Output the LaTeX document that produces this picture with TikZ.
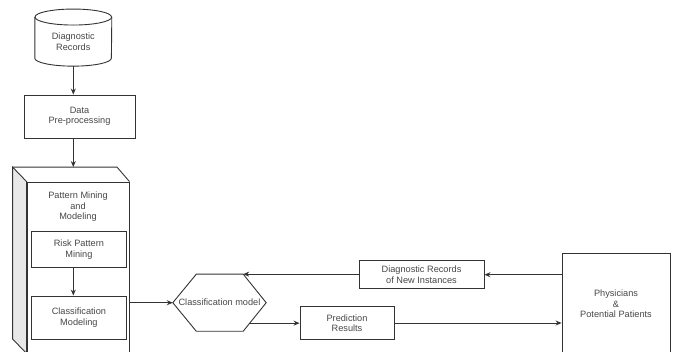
\documentclass[tikz,border=0pt]{standalone}
\usepackage{fontspec}
\setsansfont{Liberation Sans}
\usetikzlibrary{arrows.meta,calc}
\begin{document}
\begin{tikzpicture}[x=1pt,y=-1pt,
  ln/.style={draw=black!80, line width=0.9pt},
  arr/.style={draw=black!80, line width=0.9pt, -{Stealth[length=6pt,width=5pt]}},
  txt/.style={align=center, text=black!72, inner sep=0pt, font=\sffamily\fontsize{9.2}{10.5}\selectfont},
  box/.style={txt, ln, rectangle, fill=white}]
\useasboundingbox (0,0) rectangle (676,351);

% cylinder
\node[txt, minimum width=76.6pt, minimum height=56.7pt] (dr) at (73.3,37.6) {};
\draw[ln, fill=white] ($(dr.north west)+(0,8)$) -- ($(dr.south west)+(0,-8)$)
  arc[start angle=180,end angle=360,x radius=38.3pt,y radius=8pt] -- ($(dr.north east)+(0,8)$);
\draw[ln] ($(dr.north)+(0,8)$) ellipse[x radius=38.3pt, y radius=8pt];
\node[txt] (drt) at (73.3,41.5) {Diagnostic\\Records};

% data pre-processing
\node[box, minimum width=111pt, minimum height=43pt] (data) at (79.5,116.5) {Data\\Pre-processing};
\draw[arr] (dr.south) -- (dr.south |- data.north);

% 3D block
\node[box, minimum width=102pt, minimum height=171pt] (pm) at (78,267.5) {};
\filldraw[ln, fill=black!9] (pm.north west) -- ++(-14,-14.5) coordinate (pmbl)
  -- ($(pm.south west)+(-14,-14.5)$) -- (pm.south west) -- cycle;
\draw[ln] (pmbl) -- ($(pm.north east)+(-12.5,-14.5)$) -- (pm.north east);
\draw[arr] (data.south -| dr.south) -- (dr.south |- pmbl);
\node[txt] (pmt) at (78,207) {Pattern Mining\\and\\Modeling};
\node[box, minimum width=94.3pt, minimum height=35.3pt] (rpm) at (78.9,249.4) {Risk Pattern\\Mining};
\node[box, minimum width=94.3pt, minimum height=43pt] (cmod) at (78.9,317.5) {Classification\\Modeling};
\draw[arr] (rpm.south -| dr.south) -- (cmod.north -| dr.south);

% hexagon
\node[txt, minimum width=93pt, minimum height=56.7pt] (hex) at (219.5,302.7) {Classification model};
\draw[ln] (hex.west) -- ($(hex.north west)+(23.5,0)$) coordinate (hexTL)
  -- ($(hex.north east)+(-23,0)$) coordinate (hexTR) -- (hex.east)
  -- ($(hex.south east)+(-23,0)$) coordinate (hexBR)
  -- ($(hex.south west)+(23.5,0)$) -- cycle;
\draw[arr] (hex.west -| pm.east) -- (hex.west);

% right side
\node[box, minimum width=125pt, minimum height=28pt] (drn) at (421.5,274.7) {Diagnostic Records\\of New Instances};
\node[box, minimum width=94pt, minimum height=32.6pt] (pr) at (347,323) {Prediction\\Results};
\node[box, minimum width=108pt, minimum height=101.7pt] (ph) at (616,304.2) {Physicians\\\&\\Potential Patients};

\draw[arr] (ph.west |- drn.east) -- (drn.east);
\draw[arr] (drn.west |- hexTR) -- (hexTR);
\coordinate (hexP) at ($(hex.east)!0.717!(hexBR)$);
\draw[arr] (hexP) -- (hexP -| pr.west);
\draw[arr] (pr.east) -- (pr.east -| ph.west);
\end{tikzpicture}
\end{document}
